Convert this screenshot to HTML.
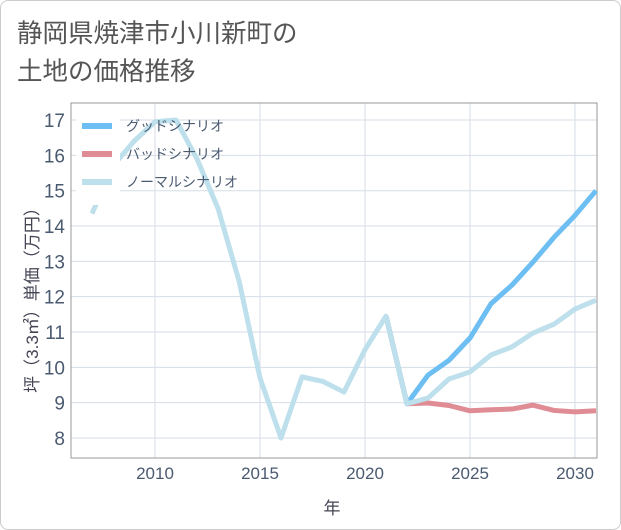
<!DOCTYPE html>
<html><head><meta charset="utf-8"><style>
body{margin:0;background:#fff;}
#card{position:absolute;left:0;top:0;width:619px;height:528px;border:1px solid #ccc;border-radius:8px;background:#fff;}
.t{font-family:"Liberation Sans","Noto Sans CJK JP",sans-serif;}
</style></head><body>
<div id="card">
<svg width="621" height="530" style="position:absolute;left:-1px;top:-1px" id="svg">
<text class="t" x="17" y="42" font-size="25.5" fill="#555">静岡県焼津市小川新町の</text>
<text class="t" x="17" y="80" font-size="25.5" fill="#555">土地の価格推移</text>
<g id="grid"></g>
<rect x="71" y="103" width="526" height="355" fill="none" stroke="#999" stroke-width="1"/>
<g id="series"></g>
<g id="legend"></g>
<text class="t" x="332" y="514" font-size="17" fill="#445" text-anchor="middle">年</text>
<text class="t" transform="translate(38,296) rotate(-90)" font-size="17" fill="#445" text-anchor="middle">坪（3.3㎡）単価（万円）</text>
</svg></div>
<script>
const years=[2007,2008,2009,2010,2011,2012,2013,2014,2015,2016,2017,2018,2019,2020,2021,2022,2023,2024,2025,2026,2027,2028,2029,2030,2031];
const normalValues=[14.35,15.7,16.4,16.95,17.0,15.9,14.5,12.45,9.7,8.0,9.73,9.6,9.3,10.5,11.45,8.97,9.13,9.67,9.87,10.35,10.58,10.97,11.22,11.65,11.9];
const futureYears=[2021,2022,2023,2024,2025,2026,2027,2028,2029,2030,2031];
const goodValues=[11.45,8.97,9.78,10.2,10.83,11.8,12.33,12.98,13.68,14.3,15.0];
const badValues=[11.45,8.97,8.99,8.92,8.77,8.8,8.82,8.93,8.78,8.74,8.77];
const yTicks=[8,9,10,11,12,13,14,15,16,17];
const xTicks=[2010,2015,2020,2025,2030];
const seriesNames=["グッドシナリオ","バッドシナリオ","ノーマルシナリオ"];
const NS="http://www.w3.org/2000/svg";
const X=y=>155+(y-2010)*21;
const Y=v=>438-(v-8)*35.33;
const grid=document.getElementById('grid'),ser=document.getElementById('series'),leg=document.getElementById('legend');
function mk(tag,attrs,parent){const e=document.createElementNS(NS,tag);for(const k in attrs)e.setAttribute(k,attrs[k]);parent.appendChild(e);return e;}
yTicks.forEach(v=>{
 const l=mk('line',{x1:71,x2:597,y1:Y(v),y2:Y(v),stroke:'#d5dde6','stroke-width':1},grid);
 
 
 const t=mk('text',{x:65,y:Y(v)+7,'font-size':19,fill:'#4a5a70','text-anchor':'end',class:'t'},grid);
 t.textContent=v;
 
 
});
xTicks.forEach(v=>{
 const l=mk('line',{x1:X(v),x2:X(v),y1:103,y2:458,stroke:'#d5dde6','stroke-width':1},grid);
 
 
 const t=mk('text',{x:X(v),y:479,'font-size':17,fill:'#4a5a70','text-anchor':'middle',class:'t'},grid);
 t.textContent=v;
 
 
});
function line(xs,vs,color,name){
 const p=mk('polyline',{points:xs.map((x,i)=>X(x)+','+Y(vs[i])).join(' '),fill:'none',stroke:color,'stroke-width':5,'stroke-linejoin':'round'},ser);
 
 
}
line(futureYears,badValues,'#e08c94','bad-scenario-line');
line(futureYears,goodValues,'#6dbef2','good-scenario-line');
line(years,normalValues,'#bde0ec','normal-scenario-line');
const colors=['#6dbef2','#e08c94','#bde0ec'];
mk('rect',{x:76,y:110,width:44,height:95,fill:'#fff'},leg);
seriesNames.forEach((n,i)=>{
 const y=126+i*28;
 const r=mk('rect',{x:82,y:y-3,width:30,height:6,fill:colors[i]},leg);
 
 
 const t=mk('text',{x:126,y:y+5,'font-size':14,fill:'#4a5a70',class:'t'},leg);
 t.textContent=n;
 
 
});
</script>
</body></html>
